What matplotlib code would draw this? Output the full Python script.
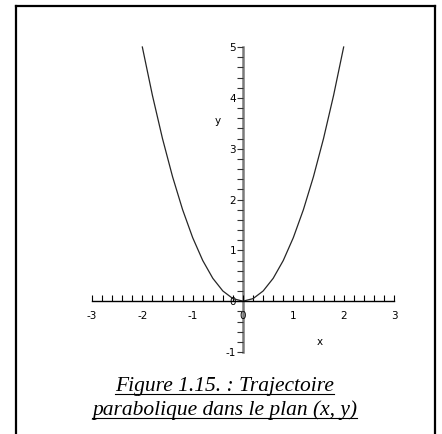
import matplotlib
matplotlib.use("Agg")
import matplotlib.pyplot as plt
from matplotlib.lines import Line2D
from matplotlib.ticker import MultipleLocator

plt.rcParams["axes.unicode_minus"] = False

# trajectory points (x, y)
traj_x = [-2.0, -1.8, -1.6, -1.4, -1.2, -1.0, -0.8, -0.6, -0.4, -0.2, 0.0,
          0.2, 0.4, 0.6, 0.8, 1.0, 1.2, 1.4, 1.6, 1.8, 2.0]
traj_y = [5.0, 4.05, 3.2, 2.45, 1.8, 1.25, 0.8, 0.45, 0.2, 0.05, 0.0,
          0.05, 0.2, 0.45, 0.8, 1.25, 1.8, 2.45, 3.2, 4.05, 5.0]
x_ticks = [-3, -2, -1, 0, 1, 2, 3]
y_ticks = [-1, 0, 1, 2, 3, 4, 5]
caption = ["Figure 1.15. : Trajectoire", "parabolique dans le plan (x, y)"]

W, H = 442, 434
fig = plt.figure(figsize=(W / 100, H / 100), dpi=100)

# axes box spans x in [-3, 3] and y in [-1, 5]
x0, x1 = 92, 394
y_top, y_bot = 47, 352
ax = fig.add_axes([x0 / W, (H - y_bot) / H, (x1 - x0) / W, (y_bot - y_top) / H])
ax.set_xlim(-3, 3)
ax.set_ylim(-1, 5)
ax.patch.set_visible(False)

ax.plot(traj_x, traj_y, color="#262626", lw=0.9, clip_on=False)

for s in ("top", "right"):
    ax.spines[s].set_visible(False)
ax.spines["bottom"].set_position(("data", 0))
ax.spines["left"].set_position(("data", 0))
ax.spines["bottom"].set_color("black")
ax.spines["bottom"].set_linewidth(1.0)
ax.spines["left"].set_color("#7a7a7a")
ax.spines["left"].set_linewidth(1.8)
ax.spines["left"].set_zorder(1)

ax.set_xticks(x_ticks)
ax.set_xticklabels([str(v) for v in x_ticks])
ax.set_yticks(y_ticks)
ax.set_yticklabels([str(v) for v in y_ticks])
ax.xaxis.set_minor_locator(MultipleLocator(0.2))
ax.yaxis.set_minor_locator(MultipleLocator(0.2))

tick_font = "DejaVu Sans"
ax.tick_params(axis="x", which="both", direction="in", length=4, width=0.8,
               color="black", pad=7, labelsize=7.5)
ax.tick_params(axis="y", which="both", direction="out", length=4, width=0.8,
               color="#333333", pad=1, labelsize=7.5)
for lbl in ax.get_xticklabels() + ax.get_yticklabels():
    lbl.set_fontfamily(tick_font)

lab_font = dict(family=tick_font, size=7.5)
ax.set_xlabel("x", fontdict=lab_font)
ax.set_ylabel("y", fontdict=lab_font, rotation=0)
ax.xaxis.set_label_coords(0.755, 0.05)
ax.yaxis.set_label_coords(0.417, 0.74)

# frame around the figure
frame_kw = dict(color="black", lw=1.6, solid_capstyle="projecting",
                transform=fig.transFigure)
fl, fr, ft = 15.5 / W, 434.5 / W, 1 - 6 / H
fig.add_artist(Line2D([fl, fl], [0, ft], **frame_kw))
fig.add_artist(Line2D([fr, fr], [0, ft], **frame_kw))
fig.add_artist(Line2D([fl, fr], [ft, ft], **frame_kw))

# underlined caption
cap_y = [1 - 386 / H, 1 - 410 / H]
cap_texts = []
for line, yy in zip(caption, cap_y):
    t = fig.text(0.508, yy, line, ha="center", va="center",
                 family="Liberation Serif", style="italic", size=15.5)
    cap_texts.append(t)

fig.canvas.draw()
renderer = fig.canvas.get_renderer()
inv = fig.transFigure.inverted()
for t in cap_texts:
    bb = t.get_window_extent(renderer)
    (ax_, ay_), (bx_, by_) = inv.transform([(bb.x0, bb.y0), (bb.x1, bb.y1)])
    uy = ay_ + 1.5 / H
    fig.add_artist(Line2D([ax_, bx_], [uy, uy], color="black", lw=0.8,
                          transform=fig.transFigure))

fig.savefig("out.png", dpi=100)
